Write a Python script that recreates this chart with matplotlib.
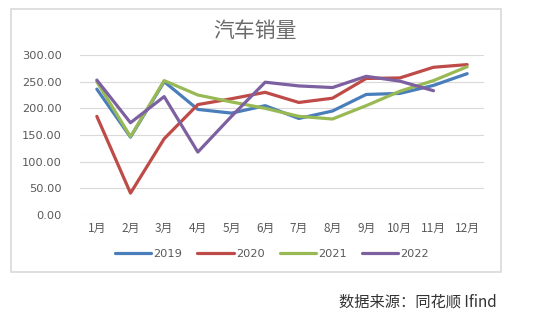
import matplotlib.pyplot as plt
from matplotlib.patches import Rectangle

plt.rcParams['font.family'] = ['Noto Sans CJK SC', 'DejaVu Sans']

months = ['1月', '2月', '3月', '4月', '5月', '6月', '7月', '8月', '9月', '10月', '11月', '12月']
years = ['2019', '2020', '2021', '2022']
sales_2019 = [236, 146, 250, 198, 191, 205, 181, 195, 226, 228, 243, 265]
sales_2020 = [185, 41, 143, 207, 218, 230, 211, 219, 256, 257, 277, 282]
sales_2021 = [250, 147, 252, 225, 212, 200, 185, 180, 205, 232, 252, 278]
sales_2022 = [253, 173, 222, 118, 185, 249, 242, 239, 260, 251, 233]
colors = ['#4a7ebb', '#be4b48', '#98b954', '#7d60a0']

fig = plt.figure(figsize=(5.43, 3.35), dpi=100)
W, H = 543, 335

# 外框
fig.patches.append(Rectangle((11 / W, 1 - 272 / H), 490 / W, 263 / H,
                             transform=fig.transFigure, fill=False,
                             edgecolor='#d9d9d9', linewidth=1.2))

ax = fig.add_axes([80 / W, 1 - 215 / H, 404 / W, 160 / H])

for data, c, y in zip([sales_2019, sales_2020, sales_2021, sales_2022], colors, years):
    ax.plot(range(len(data)), data, color=c, linewidth=2.3, label=y,
            solid_capstyle='round', solid_joinstyle='round', clip_on=False)

ax.set_xlim(-0.5, 11.5)
ax.set_ylim(0, 300)
ax.set_yticks(range(0, 301, 50))
ax.set_yticklabels([f'{v:.2f}' for v in range(0, 301, 50)], fontsize=8.2,
                   color='#595959', family='DejaVu Sans')
ax.set_xticks(range(12))
ax.set_xticklabels(months, fontsize=8.5, color='#595959')
ax.tick_params(axis='both', length=0)
ax.tick_params(axis='y', pad=13)
ax.tick_params(axis='x', pad=5)
ax.grid(axis='y', color='#d9d9d9', linewidth=0.8)
ax.set_axisbelow(True)
for s in ax.spines.values():
    s.set_visible(False)

fig.text(255 / W, 1 - 31 / H, '汽车销量', fontsize=15, color='#6b6b6b',
         ha='center', va='center', fontweight='light')

leg = fig.legend(loc='center', bbox_to_anchor=(272 / W, 1 - 254 / H), ncol=4,
                 frameon=False, fontsize=8.2, handlelength=3.2, handletextpad=0.2,
                 columnspacing=1.3)
for t in leg.get_texts():
    t.set_color('#595959')
    t.set_family('DejaVu Sans')

fig.text(497 / W, 1 - 302 / H, '数据来源：同花顺 Ifind', fontsize=11,
         color='#333333', ha='right', va='center')

fig.savefig('out.png', dpi=100)
